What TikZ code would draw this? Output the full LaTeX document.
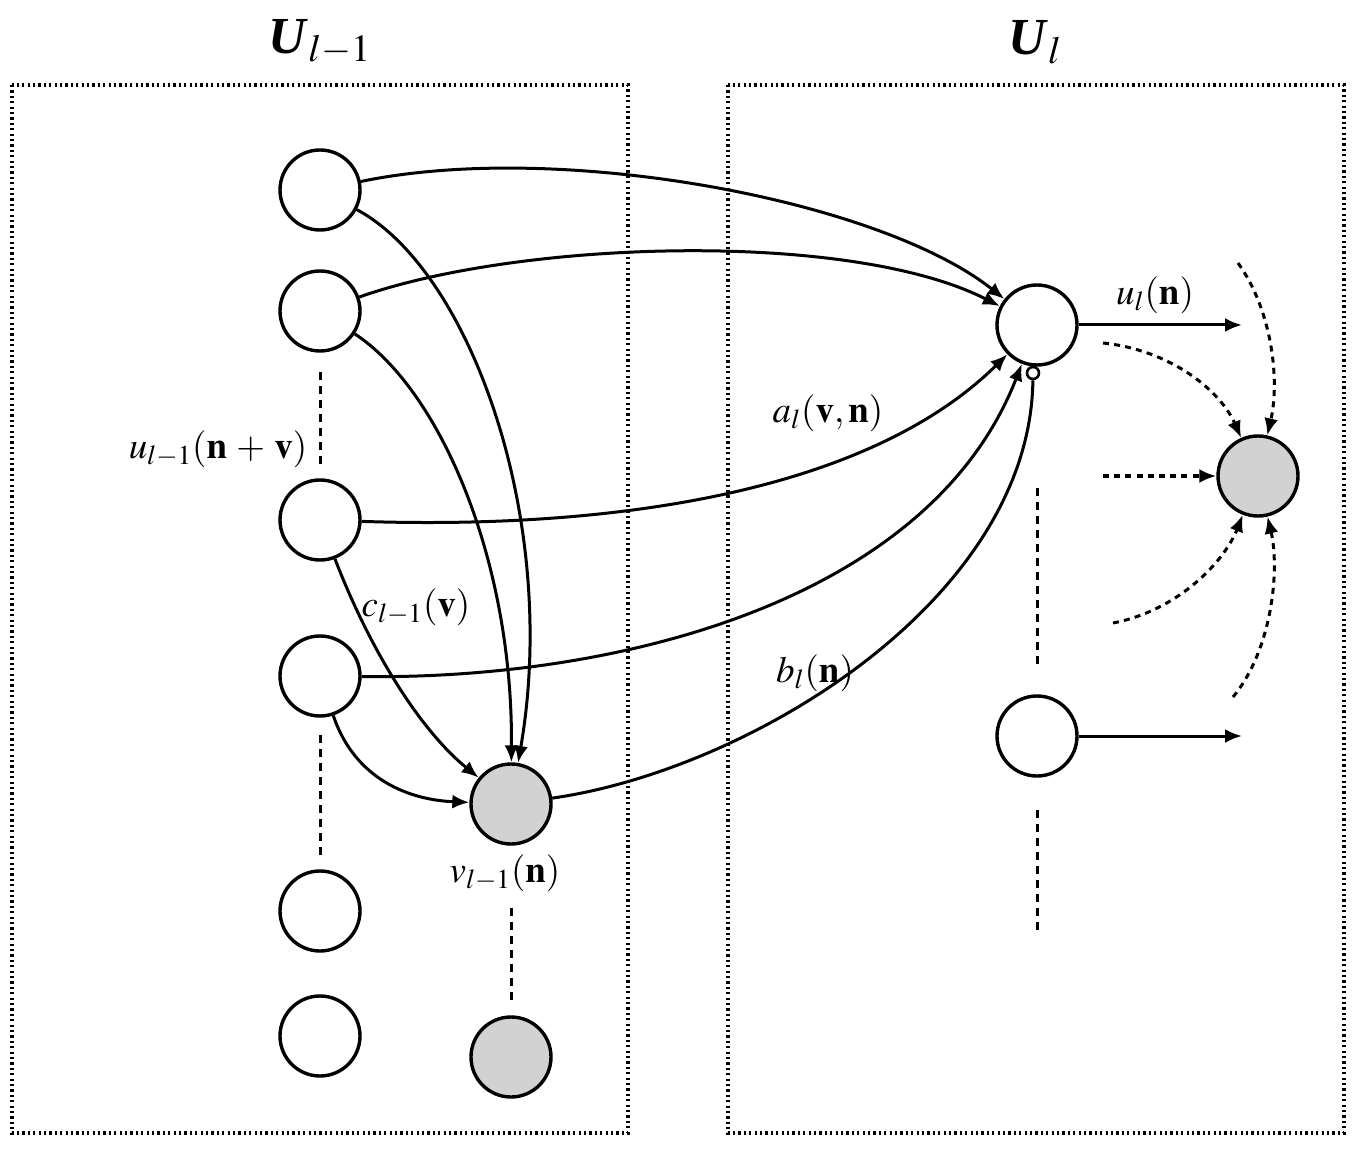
\documentclass[tikz,border=0pt]{standalone}
\usepackage{mathptmx}
\usepackage{fontspec}
\setmainfont{Liberation Serif}
\usetikzlibrary{arrows.meta}
\begin{document}
\begin{tikzpicture}[x=0.5pt,y=-0.5pt,
  neuron/.style={circle,draw,line width=1.7pt,minimum size=40pt,inner sep=0pt,fill=white},
  gneuron/.style={neuron,fill=gray!35},
  small/.style={circle,draw,line width=1.3pt,minimum size=6pt,inner sep=0pt,fill=white},
  conn/.style={line width=1.5pt,-{Latex[length=8.5pt,width=7pt]}},
  plain/.style={line width=1.5pt},
  dconn/.style={line width=1.5pt,dash pattern=on 3pt off 2.6pt,-{Latex[length=8.5pt,width=7pt]}},
  vdash/.style={line width=1.5pt,dash pattern=on 4pt off 3pt},
  boxline/.style={line width=1.6pt,dash pattern=on 1.1pt off 1.6pt},
  lab/.style={font=\fontsize{18.5}{22}\selectfont,inner sep=1pt},
  title/.style={font=\fontsize{26}{30}\selectfont}]
\useasboundingbox (0,0) rectangle (1356,1150);
% boxes
\draw[boxline] (12,85) rectangle (628,1133);
\draw[boxline] (728,85) rectangle (1344,1133);
\node[title] (t1) at (320,42) {\textbf{\textit{U}}$_{l-1}$};
\node[title] (t2) at (1035,42) {\textbf{\textit{U}}$_{l}$};
% left neurons
\node[neuron] (c1) at (320,190) {};
\node[neuron] (c2) at (320,311) {};
\node[neuron] (c3) at (320,520) {};
\node[neuron] (c4) at (320,676) {};
\node[neuron] (c5) at (320,911) {};
\node[neuron] (c6) at (320,1036) {};
\node[gneuron] (g1) at (511,804) {};
\node[gneuron] (g2) at (511,1057) {};
% right neurons
\node[neuron] (r1) at (1037,325) {};
\node[neuron] (r2) at (1037,736) {};
\node[gneuron] (gr) at (1258,476) {};
\node[small] (inh) at (1033,373) {};
% vertical dashed lines
\coordinate (v1a) at (320,372); \coordinate (v1b) at (320,465);
\coordinate (v2a) at (320,735); \coordinate (v2b) at (320,855);
\coordinate (v3a) at (511,908); \coordinate (v3b) at (511,1000);
\coordinate (v4a) at (1037,488); \coordinate (v4b) at (1037,665);
\coordinate (v5a) at (1037,810); \coordinate (v5b) at (1037,935);
\draw[vdash] (v1a) -- (v1b);
\draw[vdash] (v2a) -- (v2b);
\draw[vdash] (v3a) -- (v3b);
\draw[vdash] (v4a) -- (v4b);
\draw[vdash] (v5a) -- (v5b);
% connections to r1
\draw[conn] (c1) .. controls (560,140) and (880,200) .. (r1);
\draw[conn] (c2) .. controls (520,240) and (850,230) .. (r1);
\draw[conn] (c3) .. controls (620,530) and (870,490) .. (r1);
\draw[conn] (c4) .. controls (620,680) and (930,600) .. (r1);
\draw[plain] (g1) .. controls (750,770) and (1030,600) .. (inh);
% connections to g1
\draw[conn] (c1) .. controls (470,270) and (560,520) .. (g1);
\draw[conn] (c2) .. controls (440,390) and (513,560) .. (g1);
\draw[conn] (c3) .. controls (370,650) and (420,730) .. (g1);
\draw[conn] (c4) .. controls (355,780) and (410,800) .. (g1);
% outputs
\coordinate (o1) at (1242,325);
\coordinate (o2) at (1242,736);
\draw[conn] (r1) -- (o1);
\draw[conn] (r2) -- (o2);
% dashed inputs to gr
\coordinate (d1) at (1103,343);
\coordinate (d2) at (1238,263);
\coordinate (d3) at (1103,476);
\coordinate (d4) at (1113,623);
\coordinate (d5) at (1233,697);
\draw[dconn] (d1) .. controls (1170,350) and (1220,390) .. (gr);
\draw[dconn] (d2) .. controls (1272,310) and (1280,380) .. (gr);
\draw[dconn] (d3) -- (gr);
\draw[dconn] (d4) .. controls (1180,610) and (1225,560) .. (gr);
\draw[dconn] (d5) .. controls (1272,650) and (1280,570) .. (gr);
% labels
\node[lab] (l1) at (218,449) {$u_{l-1}(\mathbf{n}\,+\,\mathbf{v})$};
\node[lab] (l2) at (416,607) {$c_{l-1}(\mathbf{v})$};
\node[lab] (l3) at (828,413) {$a_{l}(\mathbf{v},\mathbf{n})$};
\node[lab] (l4) at (815,673) {$b_{l}(\mathbf{n})$};
\node[lab] (l5) at (505,873) {$v_{l-1}(\mathbf{n})$};
\node[lab] (l6) at (1155,295) {$u_{l}(\mathbf{n})$};
\end{tikzpicture}
\end{document}
